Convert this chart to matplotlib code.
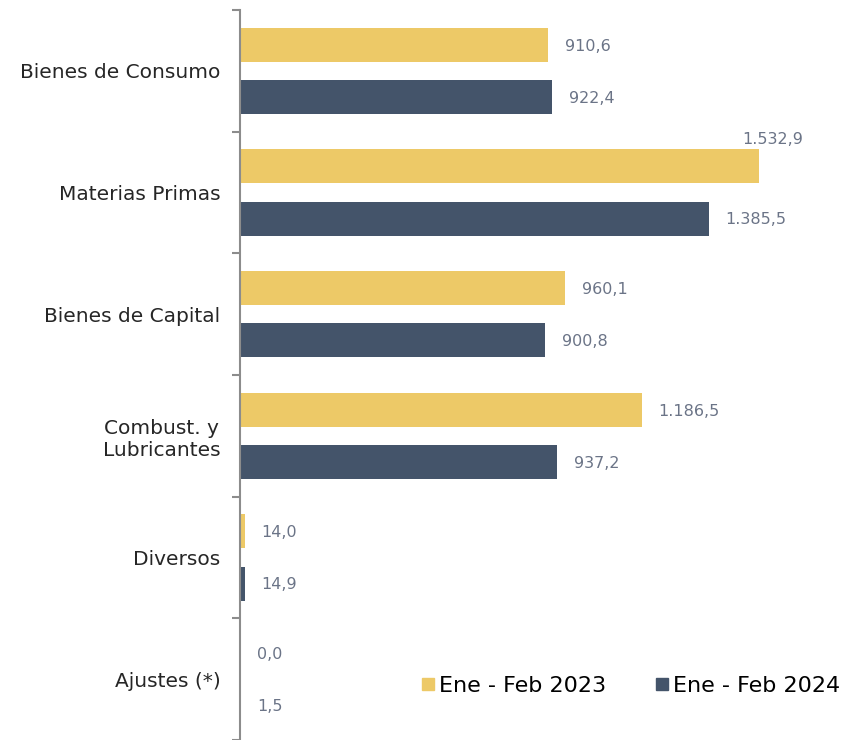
import numpy as np
import matplotlib.pyplot as plt
from matplotlib.lines import Line2D

categorias = ['Bienes de Consumo', 'Materias Primas', 'Bienes de Capital',
              'Combust. y\nLubricantes', 'Diversos', 'Ajustes (*)']
valores_2023 = [910.6, 1532.9, 960.1, 1186.5, 14.0, 0.0]
valores_2024 = [922.4, 1385.5, 900.8, 937.2, 14.9, 1.5]
series = ['Ene - Feb 2023', 'Ene - Feb 2024']

amarillo = '#EDC967'
azul = '#44546A'
gris_txt = '#6B7487'

plt.rcParams['font.family'] = ['DejaVu Sans']


def fmt(v):
    s = f'{v:,.1f}'
    return s.replace(',', 'X').replace('.', ',').replace('X', '.')


fig = plt.figure(figsize=(8.46, 7.4), dpi=100)
ax = fig.add_axes([240 / 846, 0.0, 1 - 240 / 846, 1 - 10 / 740])

y = np.arange(len(categorias))
off = 0.214
alto = 0.28
b1 = ax.barh(y - off, valores_2023, height=alto, color=amarillo)
b2 = ax.barh(y + off, valores_2024, height=alto, color=azul)

ax.set_xlim(0, 1790)
ax.set_ylim(len(categorias) - 0.5, -0.5)

# etiquetas de valores
vmax = max(valores_2023 + valores_2024)
for barras, vals in [(b1, valores_2023), (b2, valores_2024)]:
    for bar, v in zip(barras, vals):
        yc = bar.get_y() + bar.get_height() / 2
        if v == vmax:
            ax.annotate(fmt(v), (v, bar.get_y()), xytext=(10, 2),
                        textcoords='offset points', ha='center', va='bottom',
                        fontsize=11.5, color=gris_txt)
        else:
            ax.annotate(fmt(v), (v, yc), xytext=(12, -1),
                        textcoords='offset points', ha='left', va='center',
                        fontsize=11.5, color=gris_txt)

# ejes
for s in ['top', 'right', 'bottom']:
    ax.spines[s].set_visible(False)
ax.spines['left'].set_color('#8C8C8C')
ax.spines['left'].set_linewidth(1.5)
ax.set_xticks([])
ax.set_yticks(np.arange(len(categorias) + 1) - 0.5)
ax.set_yticklabels([])
ax.tick_params(axis='y', which='major', length=6, width=1.5, color='#8C8C8C')
ax.set_yticks(y, minor=True)
ax.set_yticklabels(categorias, minor=True, fontsize=14.5, color='#262626',
                   multialignment='center')
ax.tick_params(axis='y', which='minor', length=0, pad=14)

handles = [Line2D([], [], marker='s', linestyle='none', markersize=9,
                  color=c) for c in [amarillo, azul]]
fig.legend(handles, series, loc='lower right', bbox_to_anchor=(1.017, 0.033),
           ncol=2, frameon=False, fontsize=16, handletextpad=0.0,
           columnspacing=2.0, handlelength=1.0)

fig.savefig('out.png', dpi=100)
